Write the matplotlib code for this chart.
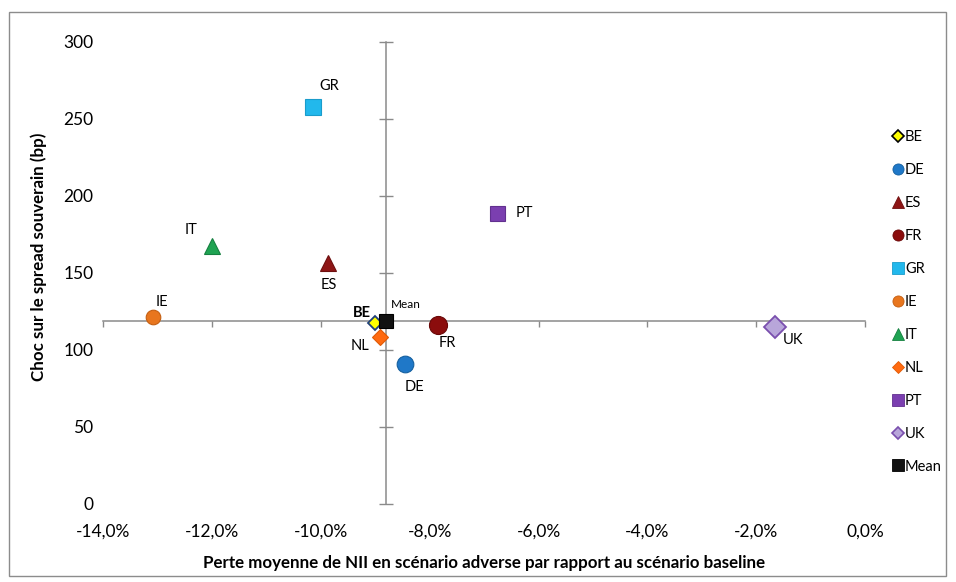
import matplotlib
matplotlib.use("Agg")
import matplotlib.pyplot as plt
from matplotlib.lines import Line2D
from matplotlib.patches import Rectangle
from matplotlib.ticker import FuncFormatter

plt.rcParams['font.family'] = ['Lato', 'DejaVu Sans']

# Data: average NII loss in the adverse scenario (%) vs sovereign spread shock (bp)
countries = ['BE', 'DE', 'ES', 'FR', 'GR', 'IE', 'IT', 'NL', 'PT', 'UK', 'Mean']
nii_loss = [-9.00, -8.45, -9.87, -7.84, -10.14, -13.09, -12.00, -8.91, -6.76, -1.65, -8.80]
spread_shock = [117.3, 90.9, 156.4, 116.2, 257.4, 121.5, 167.4, 108.6, 189.0, 115.0, 119.0]

x_ticks = [-14, -12, -10, -8, -6, -4, -2, 0]
y_ticks = [0, 50, 100, 150, 200, 250, 300]

# Marker styles per country: (marker, size, face, edge)
styles = {
    'BE':   ('D', 7.6, '#FFFF00', '#1F3F7A'),
    'DE':   ('o', 12,  '#1F78C8', '#15609F'),
    'ES':   ('^', 12,  '#8E1616', '#6E0F0F'),
    'FR':   ('o', 13,  '#8B0D0D', '#6A0808'),
    'GR':   ('s', 11,  '#22B8EC', '#1A9CCB'),
    'IE':   ('o', 10.5, '#E8761E', '#C45F12'),
    'IT':   ('^', 12,  '#1FA352', '#168040'),
    'NL':   ('D', 8.5, '#FF6A10', '#E05A05'),
    'PT':   ('s', 10.8, '#7B3FB0', '#62308F'),
    'UK':   ('D', 11,  '#B8A6DA', '#7A4FAE'),
    'Mean': ('s', 10.3, '#111111', '#000000'),
}
legend_sizes = {'BE': 6, 'DE': 8, 'ES': 8, 'FR': 8, 'GR': 8, 'IE': 8,
                'IT': 8, 'NL': 6, 'PT': 8, 'UK': 6, 'Mean': 8}

# Label offsets in pixels relative to each marker
label_offsets = {
    'BE': (-13, 10), 'DE': (9, -23), 'ES': (1, -22), 'FR': (9, -18),
    'GR': (16, 21), 'IE': (9, 15), 'IT': (-21, 16), 'NL': (-20, -9),
    'PT': (27, 0), 'UK': (18, -13), 'Mean': (20, 16),
}

W, H = 956, 582
fig = plt.figure(figsize=(W / 100, H / 100), dpi=100)
fig.patch.set_facecolor('white')

# Outer chart frame
fig.add_artist(Rectangle((9 / W, 6 / H), 937 / W, 564 / H, transform=fig.transFigure,
                         fill=False, edgecolor='#8C8C8C', linewidth=1.0))

left, right, top, bottom = 103.3, 865.0, 41.7, 504.0
ax = fig.add_axes([left / W, 1 - bottom / H, (right - left) / W, (bottom - top) / H])
ax.set_xlim(-14, 0)
ax.set_ylim(0, 300)
ax.set_facecolor('none')
for s in ax.spines.values():
    s.set_visible(False)

ax.set_xticks(x_ticks)
ax.set_yticks(y_ticks)
ax.xaxis.set_major_formatter(FuncFormatter(lambda v, p: f"{v:.1f}%".replace('.', ',')))
ax.yaxis.set_major_formatter(FuncFormatter(lambda v, p: f"{v:.0f}"))
ax.tick_params(axis='both', length=0, labelsize=12.5, colors='black')
ax.tick_params(axis='x', pad=14)
ax.tick_params(axis='y', pad=7)

ax.set_xlabel("Perte moyenne de NII en scénario adverse par rapport au scénario baseline",
              fontsize=12.2, fontweight='bold', labelpad=11)
ax.set_ylabel("Choc sur le spread souverain (bp)", fontsize=12.2, fontweight='bold')
ax.yaxis.set_label_coords(-0.074, 0.534)

# Crossing axes through the mean point
x_cross = nii_loss[countries.index('Mean')]
y_cross = spread_shock[countries.index('Mean')]
axis_grey = '#8A8A8A'

hx = ax.secondary_xaxis((y_cross - 0) / 300)
hx.spines['bottom'].set_color(axis_grey)
hx.spines['bottom'].set_linewidth(1.1)
hx.set_xticks(x_ticks)
hx.tick_params(axis='x', direction='out', length=4, width=1, color=axis_grey, labelbottom=False)

vy = ax.secondary_yaxis((x_cross + 14) / 14)
vy.spines['left'].set_color(axis_grey)
vy.spines['left'].set_linewidth(1.1)
vy.set_yticks(y_ticks)
vy.tick_params(axis='y', direction='inout', length=10, width=1, color=axis_grey, labelleft=False)

# Points and their labels
for c, xv, yv in zip(countries, nii_loss, spread_shock):
    m, ms, fc, ec = styles[c]
    ax.plot([xv], [yv], linestyle='none', marker=m, markersize=ms, markerfacecolor=fc,
            markeredgecolor=ec, markeredgewidth=1.3 if c in ('BE', 'UK') else 0.8, zorder=5)
    dx, dy = label_offsets[c]
    fs = 8.5 if c == 'Mean' else 10.5
    fw = 'bold' if c == 'BE' else 'normal'
    ax.annotate(c, (xv, yv), xytext=(dx, dy), textcoords='offset pixels',
                ha='center', va='center', fontsize=fs, fontweight=fw, zorder=6)

# Legend
handles = []
for c in countries:
    m, ms, fc, ec = styles[c]
    handles.append(Line2D([], [], linestyle='none', marker=m, markersize=legend_sizes[c],
                          markerfacecolor=fc, markeredgecolor='black' if c == 'BE' else ec,
                          markeredgewidth=1.2 if c in ('BE', 'UK') else 0.6, label=c))
fig.legend(handles=handles, loc='upper left', bbox_to_anchor=(892 / W, 1 - 130 / H),
           frameon=False, fontsize=10.5, handlelength=0.8, handletextpad=0.1,
           labelspacing=1.3, borderpad=0, borderaxespad=0)

fig.savefig('out.png', dpi=100)
